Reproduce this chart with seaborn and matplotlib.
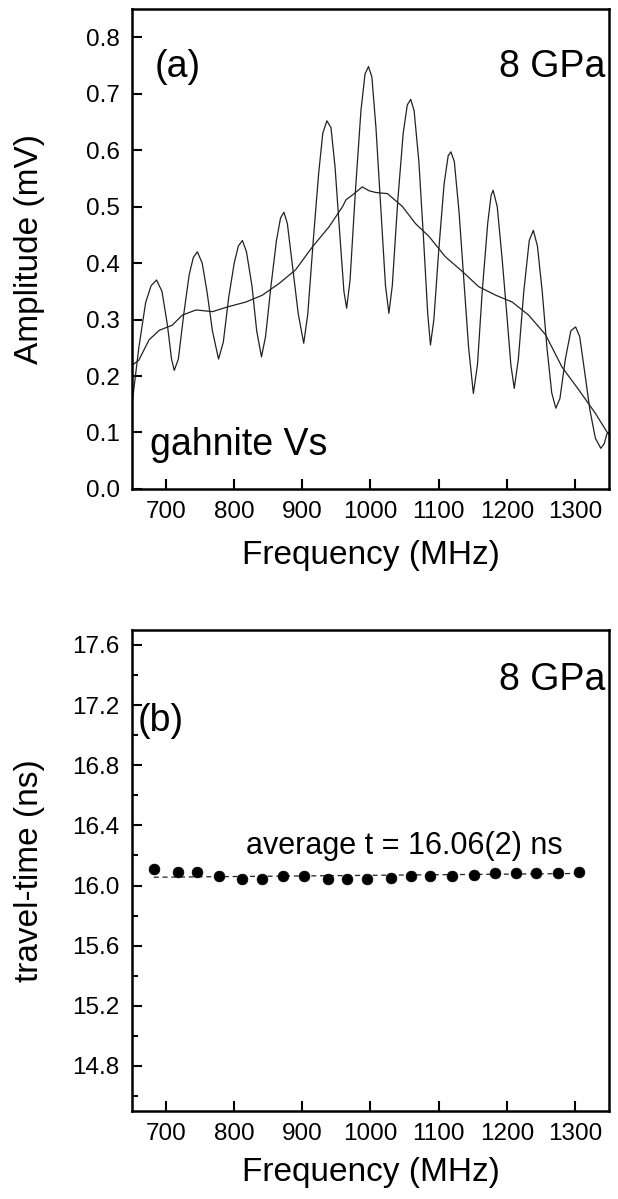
import numpy as np
import pandas as pd
import seaborn as sns
import matplotlib.pyplot as plt
from matplotlib.ticker import MultipleLocator

# (a) oscillating amplitude spectrum
osc_freq = [650, 660, 670, 678, 686, 694, 702, 708, 712, 718, 726, 734, 740, 746, 753, 760, 768, 777,
            784, 792, 800, 806, 812, 818, 826, 833, 840, 846, 854, 862, 868, 873, 878, 886, 894, 902,
            908, 916, 924, 930, 936, 942, 948, 955, 961, 965, 970, 978, 986, 992, 997, 1002, 1008, 1015,
            1022, 1027, 1032, 1040, 1048, 1054, 1059, 1064, 1071, 1078, 1084, 1088, 1093, 1100, 1108,
            1114, 1118, 1123, 1130, 1137, 1144, 1151, 1157, 1164, 1172, 1177, 1180, 1186, 1193, 1200,
            1206, 1211, 1217, 1225, 1233, 1239, 1245, 1252, 1259, 1266, 1272, 1278, 1286, 1294, 1301,
            1307, 1314, 1322, 1330, 1338, 1343, 1347, 1350]
osc_amp = [0.15, 0.25, 0.33, 0.36, 0.37, 0.35, 0.29, 0.23, 0.21, 0.23, 0.31, 0.38, 0.41, 0.42, 0.40, 0.35, 0.28, 0.23,
           0.26, 0.34, 0.40, 0.43, 0.44, 0.42, 0.36, 0.28, 0.234, 0.27, 0.36, 0.44, 0.48, 0.49, 0.47, 0.39, 0.31, 0.258,
           0.31, 0.44, 0.56, 0.63, 0.652, 0.64, 0.57, 0.45, 0.35, 0.32, 0.37, 0.53, 0.67, 0.735, 0.748, 0.73, 0.64, 0.50,
           0.36, 0.311, 0.36, 0.51, 0.63, 0.68, 0.69, 0.67, 0.58, 0.44, 0.31, 0.255, 0.30, 0.42, 0.54,
           0.59, 0.597, 0.58, 0.49, 0.37, 0.25, 0.169, 0.22, 0.35, 0.47, 0.52, 0.529, 0.50, 0.41, 0.31,
           0.22, 0.178, 0.23, 0.35, 0.44, 0.458, 0.43, 0.35, 0.25, 0.17, 0.143, 0.16, 0.23, 0.28, 0.287,
           0.27, 0.21, 0.14, 0.09, 0.072, 0.08, 0.098, 0.10]

# (a) smooth envelope spectrum
env_freq = [650, 660, 675, 690, 709, 724, 744, 768, 792, 817, 841, 866, 890, 915, 939, 959, 964, 975,
            988, 998, 1008, 1025, 1047, 1066, 1086, 1110, 1135, 1159, 1184, 1208, 1232, 1257, 1281,
            1306, 1330, 1347, 1350]
env_amp = [0.219, 0.228, 0.264, 0.281, 0.290, 0.308, 0.317, 0.314, 0.323, 0.331, 0.343, 0.364, 0.388, 0.429,
           0.464, 0.500, 0.512, 0.522, 0.535, 0.528, 0.525, 0.523, 0.500, 0.470, 0.447, 0.411, 0.385, 0.358,
           0.343, 0.331, 0.308, 0.273, 0.216, 0.175, 0.134, 0.101, 0.097]

# (b) travel time vs frequency
tt_freq = [682, 717, 746, 777, 812, 841, 872, 902, 937, 966, 995, 1030, 1059, 1088, 1119, 1152, 1183,
           1213, 1243, 1275, 1306]
tt_time = [16.11, 16.09, 16.09, 16.06, 16.04, 16.04, 16.06, 16.06, 16.04, 16.04, 16.04, 16.05, 16.06,
           16.06, 16.06, 16.07, 16.08, 16.08, 16.08, 16.08, 16.09]
fit_freq = [682, 1306]
fit_time = [16.055, 16.08]

sns.set_style("ticks")
plt.rcParams['font.family'] = ['Liberation Sans', 'DejaVu Sans']
plt.rcParams['xtick.direction'] = 'in'
plt.rcParams['ytick.direction'] = 'in'
for k in ('text.color', 'axes.labelcolor', 'xtick.color', 'ytick.color'):
    plt.rcParams[k] = 'black'

fig = plt.figure(figsize=(6.18, 11.99), dpi=100)
ax1 = fig.add_axes([0.2136, 0.5922, 0.7718, 0.4003])
ax2 = fig.add_axes([0.2136, 0.0734, 0.7718, 0.4012])

ink = '#222222'
sns.lineplot(x=osc_freq, y=osc_amp, ax=ax1, color=ink, lw=0.9, sort=False)
sns.lineplot(x=env_freq, y=env_amp, ax=ax1, color=ink, lw=0.9, sort=False)
ax1.set_xlim(650, 1350)
ax1.set_ylim(0, 0.85)
ax1.xaxis.set_major_locator(MultipleLocator(100))
ax1.yaxis.set_major_locator(MultipleLocator(0.1))
ax1.yaxis.set_major_formatter(plt.FormatStrFormatter('%.1f'))
ax1.set_xlabel('Frequency (MHz)', fontsize=24)
ax1.set_ylabel('Amplitude (mV)', fontsize=24)
ax1.xaxis.set_label_coords(0.5, -0.106)
ax1.yaxis.set_label_coords(-0.182, 0.5)
ax1.text(0.048, 0.858, '(a)', transform=ax1.transAxes, fontsize=27, va='baseline')
ax1.text(0.992, 0.858, '8 GPa', transform=ax1.transAxes, fontsize=27, va='baseline', ha='right')
ax1.text(0.038, 0.071, 'gahnite Vs', transform=ax1.transAxes, fontsize=27, va='baseline')

sns.lineplot(x=fit_freq, y=fit_time, ax=ax2, color=ink, lw=0.9, linestyle=(0, (4, 3)))
sns.scatterplot(x=tt_freq, y=tt_time, ax=ax2, color='black', s=60, edgecolor='black', linewidth=0.5, zorder=3)
ax2.set_xlim(650, 1350)
ax2.set_ylim(14.5, 17.7)
ax2.xaxis.set_major_locator(MultipleLocator(100))
ax2.yaxis.set_major_locator(MultipleLocator(0.4))
ax2.yaxis.set_minor_locator(MultipleLocator(0.2))
ax2.yaxis.set_major_formatter(plt.FormatStrFormatter('%.1f'))
ax2.set_xlabel('Frequency (MHz)', fontsize=24)
ax2.set_ylabel('travel-time (ns)', fontsize=24)
ax2.xaxis.set_label_coords(0.5, -0.096)
ax2.yaxis.set_label_coords(-0.182, 0.5)
ax2.text(0.012, 0.79, '(b)', transform=ax2.transAxes, fontsize=27, va='baseline')
ax2.text(0.992, 0.875, '8 GPa', transform=ax2.transAxes, fontsize=27, va='baseline', ha='right')
ax2.text(0.239, 0.534, 'average t = 16.06(2) ns', transform=ax2.transAxes, fontsize=22, va='baseline')

for ax in (ax1, ax2):
    for s in ax.spines.values():
        s.set_linewidth(1.8)
        s.set_color('black')
    ax.tick_params(which='major', length=7, width=1.5, labelsize=17.5, top=False, right=False, pad=9)
    ax.tick_params(which='minor', length=4, width=1.5, top=False, right=False)

fig.savefig('out.png', dpi=100)
